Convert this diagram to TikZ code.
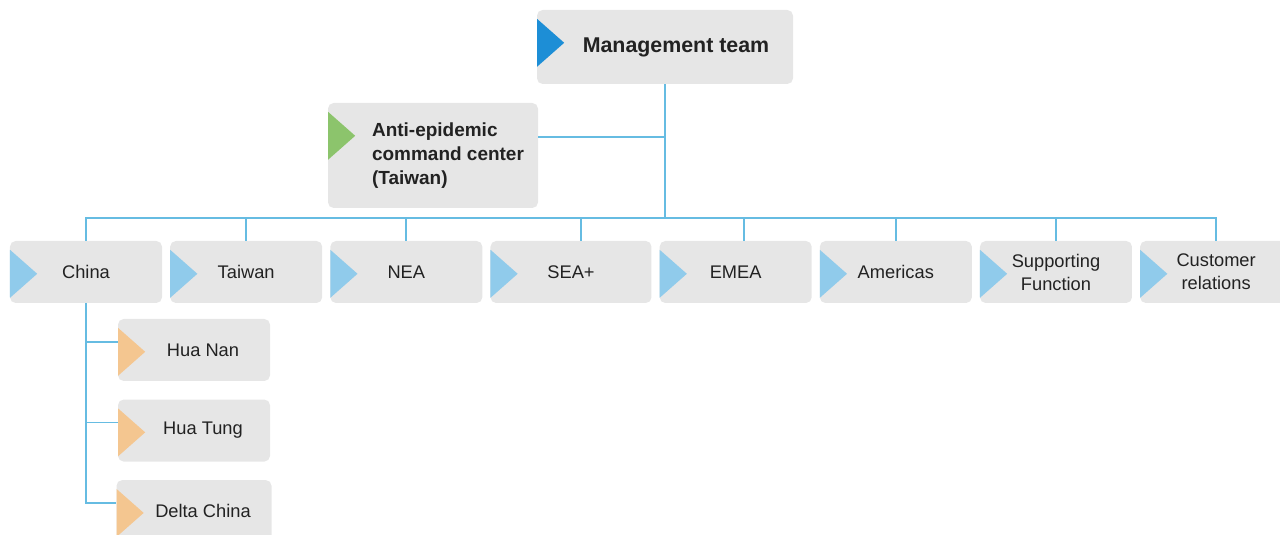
\documentclass[tikz,border=0pt]{standalone}
\usepackage{fontspec}
\setmainfont{Liberation Sans}
\usetikzlibrary{positioning}
\definecolor{boxgray}{HTML}{E6E6E6}
\definecolor{ink}{HTML}{222222}
\definecolor{linkblue}{HTML}{66BCE2}
\definecolor{tipblue}{HTML}{90CBEB}
\definecolor{tipdark}{HTML}{1D8ED6}
\definecolor{tipgreen}{HTML}{8CC46C}
\definecolor{tiporange}{HTML}{F4C690}
\tikzset{
    node distance = 0.45cm and 0.19cm,
    unitbox/.style = {rounded corners=0.14cm, fill=boxgray, text=ink, inner sep=0pt, align=center,
        minimum width=3.8cm, minimum height=1.55cm, font=\fontsize{13}{16.4}\selectfont,
        path picture={\fill[#1,sharp corners] ([yshift=-0.22cm]path picture bounding box.north west)
            -- ++(0.68cm,-0.6cm) -- ++(-0.68cm,-0.6cm) -- cycle;}},
    unitbox/.default = tipblue,
    lead/.style = {minimum width=6.4cm, minimum height=1.85cm, font=\bfseries\fontsize{15.2}{18}\selectfont},
    center/.style = {minimum width=5.25cm, minimum height=2.625cm, font=\bfseries\fontsize{13.5}{17}\selectfont},
    link/.style = {draw=linkblue, line width=1.3pt}
}
\begin{document}
\begin{tikzpicture}
  \clip (0,0) rectangle (32,-13.375);

  \node[unitbox=tipdark, lead] (mgmt) at (16.625,-1.175) {\hspace*{0.55cm}Management team};

  \node[unitbox=tipgreen, center] (anti) at (10.825,-3.8875)
    {\hspace*{0.75cm}\begin{tabular}{@{}l@{}}Anti-epidemic\\command center\\(Taiwan)\end{tabular}};

  \node[unitbox] (china) at (2.15,-6.8) {China};

  \node[unitbox] (taiwan) [right =of china] {Taiwan};

  \node[unitbox] (nea) [right =of taiwan] {NEA};

  \node[unitbox, minimum width=4.025cm] (sea) [right =of nea] {SEA+};

  \node[unitbox] (emea) [right =of sea] {EMEA};

  \node[unitbox] (amer) [right =of emea] {Americas};

  \node[unitbox] (supp) [right =of amer] {Supporting\\Function};

  \node[unitbox] (cust) [right =of supp] {Customer\\relations};

  \node[unitbox=tiporange] (huanan) at (4.85,-8.75) {\hspace*{0.45cm}Hua Nan};

  \node[unitbox=tiporange] (huatung) [below =of huanan] {\hspace*{0.45cm}Hua Tung};

  \node[unitbox=tiporange, minimum width=3.875cm] (delta) [below =of huatung] {\hspace*{0.45cm}Delta China};

  \path (mgmt.south) ++(0,-3.35) coordinate (hub);

  \draw[link] (mgmt.south) -- (hub);

  \draw[link] ([yshift=0.4625cm]anti.east) -| (mgmt.south);

  \foreach \n/\s in {china/0,taiwan/0,nea/0,sea/0.24,emea/0.21,amer/0,supp/0,cust/0}
    \draw[link] ([xshift=\s cm]\n.north) |- (hub);

  \foreach \n in {huanan,huatung,delta}
    \draw[link] (china.south) |- ([yshift=0.2cm]\n.west);
\end{tikzpicture}
\end{document}
